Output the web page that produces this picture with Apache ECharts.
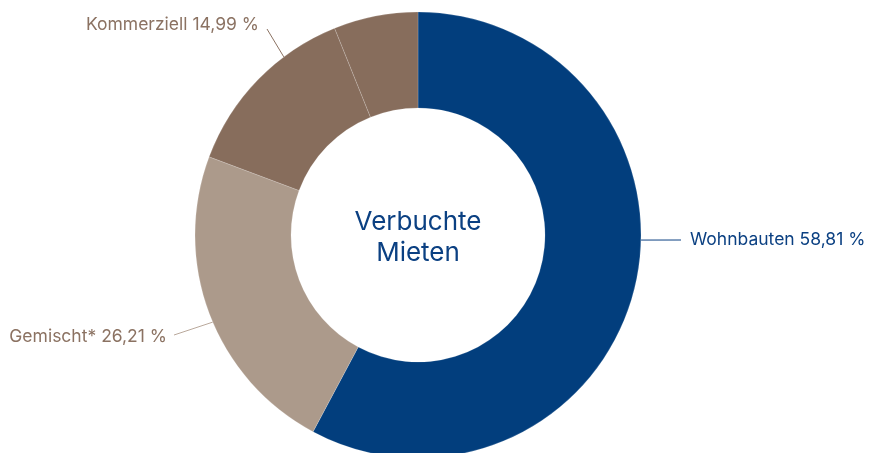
<!DOCTYPE html>
<html>
<head>
<meta charset="utf-8">
<script src="https://cdn.jsdelivr.net/npm/echarts@6/dist/echarts.min.js"></script>
<style>
  html, body { margin: 0; padding: 0; background: #fff; }
  #donut { width: 869px; height: 453px; }
</style>
</head>
<body>
<div id="donut"></div>
<script>
// Daten
var names = ['Wohnbauten', 'Gemischt*', 'Kommerziell', ''];
var values = [57.8, 22.9, 13.2, 6.1];
var shareText = ['58,81 %', '26,21 %', '14,99 %', ''];
var colors = ['#023e7d', '#ac9a8b', '#876d5c', '#876d5c'];
var textColors = ['#0b4082', '#8b7262', '#8b7262', '#8b7262'];

// Geometrie
var cx = 418, cy = 235, rIn = 127, rOut = 223;
// Ankerwinkel der Beschriftungslinien (Grad, 0 = rechts, gegen Uhrzeigersinn)
var anchorDeg = [-1.3, 203, 127];
var lineEnd = [[681, 240], [174, 335], [267, 29]];
var labelPos = [[690, 240, 'left'], [167, 337, 'right'], [259, 25, 'right']];

var chart = echarts.init(document.getElementById('donut'));

var pieData = values.map(function (v, i) {
    return {
        value: v,
        name: names[i],
        itemStyle: { color: colors[i] },
        label: { show: i < 3, color: textColors[i] },
        labelLine: { show: i < 3, lineStyle: { color: i === 0 ? '#0b4082' : (i === 1 ? '#b9a89b' : '#8b7262'), width: 1 } }
    };
});

var option = {
    animation: false,
    title: {
        text: 'Verbuchte\nMieten',
        left: cx - 5,
        top: 202,
        textAlign: 'center',
        textStyle: {
            fontFamily: 'Inter',
            fontSize: 26,
            fontWeight: 'normal',
            color: '#0b4082',
            lineHeight: 31
        }
    },
    series: [
        {
            type: 'pie',
            center: [cx, cy],
            radius: [rIn, rOut],
            startAngle: 90,
            clockwise: true,
            avoidLabelOverlap: false,
            itemStyle: { borderColor: 'rgba(255,255,255,0.35)', borderWidth: 0.5 },
            label: {
                position: 'outside',
                fontFamily: 'Inter',
                fontSize: 17.5,
                formatter: function (p) {
                    return p.name + ' ' + shareText[p.dataIndex];
                }
            },
            labelLine: { show: true, length: 20, length2: 20 },
            labelLayout: function (params) {
                var i = params.dataIndex;
                if (i > 2) return {};
                var a = anchorDeg[i] * Math.PI / 180;
                var start = [cx + rOut * Math.cos(a), cy - rOut * Math.sin(a)];
                return {
                    x: labelPos[i][0],
                    y: labelPos[i][1],
                    align: labelPos[i][2],
                    verticalAlign: 'middle',
                    labelLinePoints: [start, lineEnd[i], lineEnd[i]]
                };
            },
            data: pieData
        }
    ]
};

chart.setOption(option);
</script>
</body>
</html>
